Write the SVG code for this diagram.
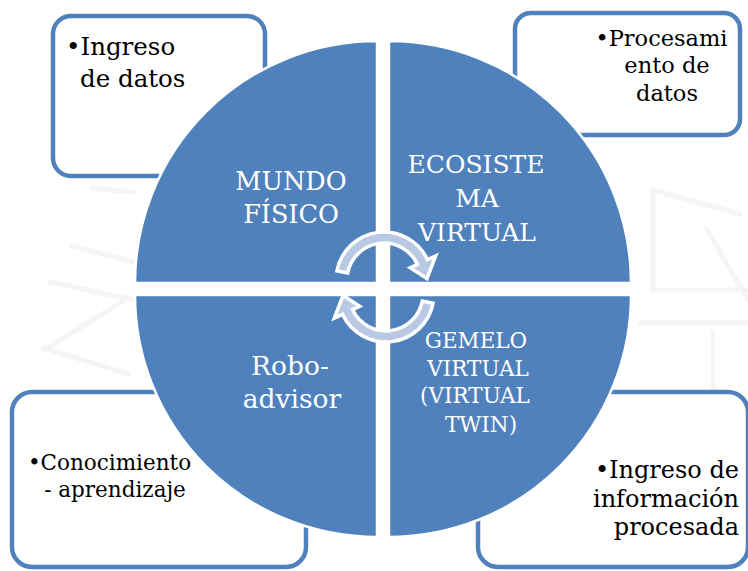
<svg xmlns="http://www.w3.org/2000/svg" width="748" height="571" viewBox="0 0 748 571">
<defs>
<style>
.box{fill:#ffffff;stroke:#4f81bd;stroke-width:4.5}
.quad{fill:#4f81bd;stroke:#ffffff;stroke-width:2.5}
.arrow{fill:#b9c9e3;stroke:#ffffff;stroke-width:3.5;stroke-linejoin:miter}
.wm{fill:none;stroke:#f5f5f5;stroke-width:5;stroke-linecap:round}
.bt{font-family:"DejaVu Serif","Liberation Serif",serif;fill:#000000}
.qt{font-family:"DejaVu Serif","Liberation Serif",serif;fill:#ffffff;text-anchor:middle}
</style>
<path id="carrow" class="arrow" d="M336.9,270.8 A48,48 0 0 1 427.5,259.7 L435.7,255.9 L427,278.5 L410.3,267.7 L417.5,264.4 A37,37 0 0 0 347.7,272.9 Z"/>
</defs>
<rect width="748" height="571" fill="#ffffff"/>
<g id="watermark">
<path class="wm" d="M92,188 L134,192 M72,246 L134,262 M50,282 L134,300 M44,350 L128,298 M44,348 L128,374"/>
<path class="wm" d="M653,190 L653,290 L748,290 M653,190 L740,214 M706,228 L748,300 M713,332 L713,400 M640,323 L748,323"/>
</g>
<g id="box-ingreso">
<rect class="box" x="53" y="16" width="212" height="160" rx="18"/>
<text class="bt" font-size="24.5" x="66" y="55">•Ingreso</text>
<text class="bt" font-size="24.5" x="80" y="87">de datos</text>
</g>
<g id="box-procesamiento">
<rect class="box" x="515" y="13" width="225" height="122" rx="16"/>
<text class="bt" font-size="22.5" x="661.5" y="46" text-anchor="middle">•Procesami</text>
<text class="bt" font-size="22.5" x="667" y="73" text-anchor="middle">ento de</text>
<text class="bt" font-size="22.5" x="667" y="101" text-anchor="middle">datos</text>
</g>
<g id="box-conocimiento">
<rect class="box" x="12" y="392" width="294" height="175" rx="20"/>
<text class="bt" font-size="21.5" x="109.5" y="470" text-anchor="middle">•Conocimiento</text>
<text class="bt" font-size="21.5" x="115" y="497" text-anchor="middle">- aprendizaje</text>
</g>
<g id="box-informacion">
<rect class="box" x="478" y="392" width="270" height="175" rx="20"/>
<text class="bt" font-size="24" x="739" y="478" text-anchor="end">•Ingreso de</text>
<text class="bt" font-size="24" x="739" y="507" text-anchor="end">información</text>
<text class="bt" font-size="24" x="739" y="535" text-anchor="end">procesada</text>
</g>
<g id="q-mundo-fisico">
<path class="quad" d="M377,283 L135,283 A242,242 0 0 1 377,41 Z"/>
<text class="qt" font-size="25.5" x="291" y="190">MUNDO</text>
<text class="qt" font-size="25.5" x="291" y="223">FÍSICO</text>
</g>
<g id="q-ecosistema">
<path class="quad" d="M389,283 L389,41 A242,242 0 0 1 631,283 Z"/>
<text class="qt" font-size="25" x="476" y="173">ECOSISTE</text>
<text class="qt" font-size="25" x="477" y="207">MA</text>
<text class="qt" font-size="25" x="477" y="241">VIRTUAL</text>
</g>
<g id="q-roboadvisor">
<path class="quad" d="M377,295 L377,537 A242,242 0 0 1 135,295 Z"/>
<text class="qt" font-size="26.5" x="290" y="375">Robo-</text>
<text class="qt" font-size="26.5" x="292" y="408">advisor</text>
</g>
<g id="q-gemelo">
<path class="quad" d="M389,295 L631,295 A242,242 0 0 1 389,537 Z"/>
<text class="qt" font-size="21.5" x="476" y="348">GEMELO</text>
<text class="qt" font-size="21.5" x="478" y="376">VIRTUAL</text>
<text class="qt" font-size="21.5" x="475" y="403">(VIRTUAL</text>
<text class="qt" font-size="21.5" x="481" y="432">TWIN)</text>
</g>
<g id="connectors">
<use href="#carrow"/>
<use href="#carrow" transform="rotate(180 385 287)"/>
</g>
</svg>
